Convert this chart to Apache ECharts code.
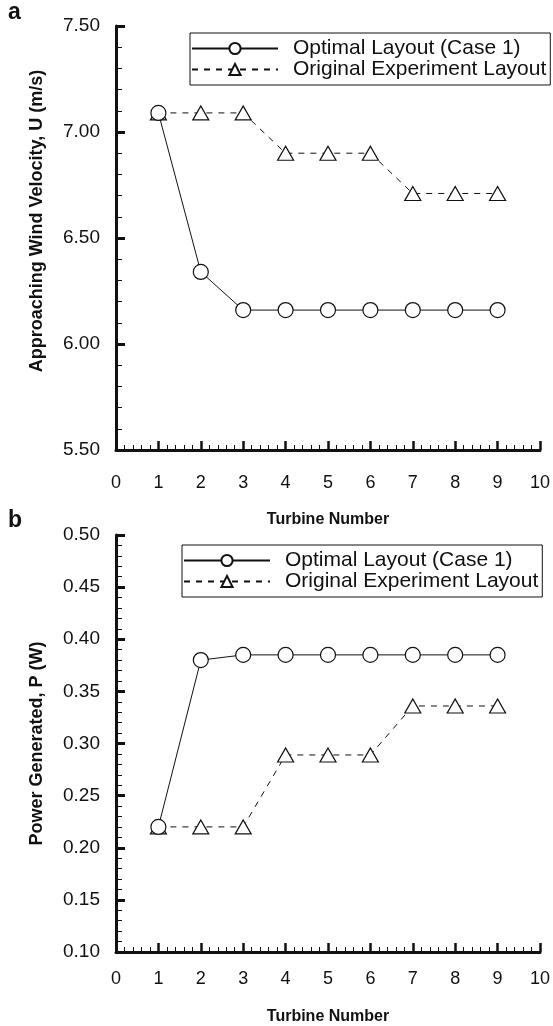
<!DOCTYPE html>
<html><head><meta charset="utf-8">
<script src="https://cdn.jsdelivr.net/npm/echarts@6/dist/echarts.min.js"></script>
<style>html,body{margin:0;padding:0;background:#fff}#c{width:553px;height:1026px}</style>
</head><body><div id="c"></div>
<script>
const turbines = [1,2,3,4,5,6,7,8,9];
const velOptimal = [7.09,6.34,6.16,6.16,6.16,6.16,6.16,6.16,6.16];
const velOriginal = [7.09,7.09,7.09,6.90,6.90,6.90,6.71,6.71,6.71];
const powOptimal = [0.220,0.380,0.385,0.385,0.385,0.385,0.385,0.385,0.385];
const powOriginal = [0.220,0.220,0.220,0.289,0.289,0.289,0.336,0.336,0.336];
const nameOpt = 'Optimal Layout (Case 1)';
const nameOrig = 'Original Experiment Layout';
const xTitle = 'Turbine Number';
const yTitleA = 'Approaching Wind Velocity, U (m/s)';
const yTitleB = 'Power Generated, P (W)';

const pair = (xs, ys) => xs.map((x,i)=>[x, ys[i]]);
const F = 'Liberation Sans, Arial, sans-serif';

function xAxis(grid, labelMargin, gap){
  return {type:'value', gridIndex:grid, min:0, max:10, interval:1,
    name:xTitle, nameLocation:'middle', nameGap: gap,
    nameTextStyle:{fontFamily:F, fontSize:16, fontWeight:'bold', color:'#111'},
    axisLine:{show:true, onZero:false, lineStyle:{color:'#111', width:3}},
    axisTick:{show:true, inside:true, length:9, lineStyle:{color:'#111', width:2.5}},
    minorTick:{show:true, splitNumber:5, length:5, lineStyle:{color:'#111', width:1}},
    axisLabel:{fontFamily:F, fontSize:18, color:'#111', margin:labelMargin},
    splitLine:{show:false}};
}
function yAxis(grid, min, max, interval, title, gap, shift){
  return {type:'value', gridIndex:grid, min:min, max:max, interval:interval,
    name:title, nameLocation:'middle', nameGap:gap, nameRotate:90,
    nameTextStyle:{fontFamily:F, fontSize:18, fontWeight:'bold', color:'#111',
      padding:[0,0,0,shift]},
    axisLine:{show:true, lineStyle:{color:'#111', width:3}},
    axisTick:{show:true, inside:true, length:9, lineStyle:{color:'#111', width:3}},
    minorTick:{show:true, splitNumber:5, length:6, lineStyle:{color:'#111', width:1}},
    axisLabel:{fontFamily:F, fontSize:19, color:'#111', margin:16,
      formatter:v=>v.toFixed(2)},
    splitLine:{show:false}};
}
function ser(name, xi, data, dashed, sym){
  return {name:name, type:'line', xAxisIndex:xi, yAxisIndex:xi, data:data,
    symbol:sym, symbolSize: sym==='circle'?15:[16,14],
    lineStyle:{color:'#111', width:1, type: dashed?[6,6]:'solid'},
    itemStyle:{color:'#fff', borderColor:'#111', borderWidth:1.2},
    z: dashed?2:3, animation:false};
}
const legendCommon = {orient:'vertical', itemWidth:86, itemHeight:14, itemGap:0,
  backgroundColor:'#fff', borderColor:'#111', borderWidth:1, padding:[5,4,5,1],
  textStyle:{fontFamily:F, fontSize:21, color:'#111', padding:[0,0,0,10], lineHeight:19},
  data:[nameOpt, nameOrig], selectedMode:false};

const chart = echarts.init(document.getElementById('c'), null, {renderer:'canvas'});
chart.setOption({
  animation:false,
  backgroundColor:'#fff',
  grid:[{left:116, top:26, width:425, height:424},
        {left:116, top:535, width:425, height:425}],
  xAxis:[xAxis(0, 24, 62), xAxis(1, 18, 57)],
  yAxis:[yAxis(0, 5.5, 7.5, 0.5, yTitleA, 70, 34), yAxis(1, 0.10, 0.50, 0.05, yTitleB, 70, 0)],
  legend:[Object.assign({left:190, top:33}, legendCommon),
          Object.assign({left:182, top:545}, legendCommon)],
  graphic:[
    {type:'text', left:8, top:1, style:{text:'a', font:'bold 23px '+F, fill:'#111'}},
    {type:'text', left:8, top:509, style:{text:'b', font:'bold 23px '+F, fill:'#111'}}
  ],
  series:[
    ser(nameOrig, 0, pair(turbines, velOriginal), true, 'triangle'),
    ser(nameOpt, 0, pair(turbines, velOptimal), false, 'circle'),
    ser(nameOrig, 1, pair(turbines, powOriginal), true, 'triangle'),
    ser(nameOpt, 1, pair(turbines, powOptimal), false, 'circle')
  ]
});
</script></body></html>
